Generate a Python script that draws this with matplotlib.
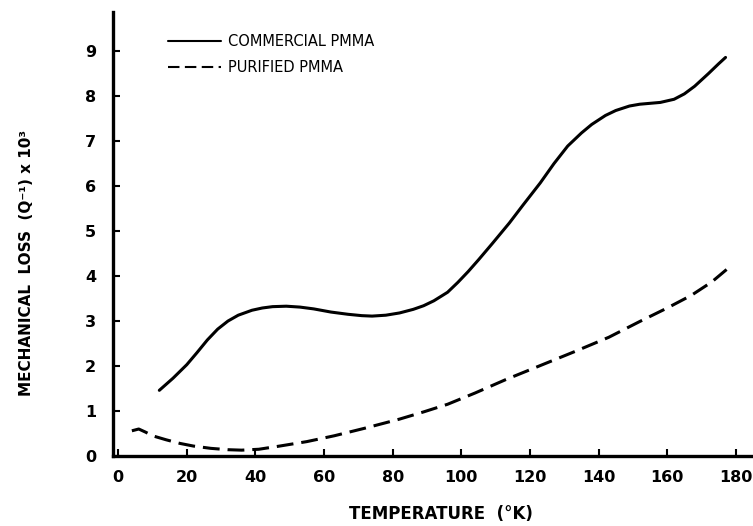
import matplotlib
matplotlib.use("Agg")
import matplotlib.pyplot as plt

# Commercial PMMA (solid)
comm_T = [12, 16, 20, 23, 26, 29, 32, 35, 39, 42, 45, 49, 53, 57, 62, 67, 71, 74, 78,
          82, 86, 89, 92, 96, 99, 102, 105, 109, 114, 118, 123, 127, 131, 135, 138, 142,
          145, 149, 152, 155, 158, 162, 165, 168, 172, 175, 177]
comm_Q = [1.46, 1.73, 2.03, 2.30, 2.58, 2.82, 3.00, 3.13, 3.24, 3.29, 3.32, 3.33, 3.31,
          3.27, 3.20, 3.15, 3.12, 3.11, 3.13, 3.18, 3.26, 3.34, 3.45, 3.64, 3.86, 4.10,
          4.36, 4.72, 5.18, 5.58, 6.07, 6.50, 6.89, 7.18, 7.37, 7.57, 7.68, 7.78, 7.82,
          7.84, 7.86, 7.93, 8.05, 8.22, 8.50, 8.72, 8.86]

# Purified PMMA (dashed)
pur_T = [4, 6, 8, 10, 14, 18, 22, 27, 32, 36, 41, 47, 55, 63, 72, 82, 89, 96, 104,
         113, 123, 133, 143, 152, 160, 167, 173, 178]
pur_Q = [0.56, 0.60, 0.53, 0.45, 0.36, 0.28, 0.22, 0.17, 0.14, 0.13, 0.15, 0.22, 0.32,
         0.45, 0.62, 0.82, 0.98, 1.15, 1.40, 1.70, 2.01, 2.32, 2.64, 2.99, 3.29, 3.57,
         3.87, 4.19]

xticks = [0, 20, 40, 60, 80, 100, 120, 140, 160, 180]
yticks = [0, 1, 2, 3, 4, 5, 6, 7, 8, 9]

fig = plt.figure(figsize=(7.53, 5.26), dpi=100)
ax = fig.add_axes([113 / 753, 1 - 456 / 526, 1 - 113 / 753, (456 - 12) / 526])

ax.plot(comm_T, comm_Q, color="black", lw=2.2, solid_capstyle="round",
        solid_joinstyle="round", label="COMMERCIAL PMMA")
ax.plot(pur_T, pur_Q, color="black", lw=2.2, dashes=(5.5, 2.6),
        label="PURIFIED PMMA")

ax.set_xlim(-1.5, 185)
ax.set_ylim(0, 9.87)
for s in ("top", "right"):
    ax.spines[s].set_visible(False)
for s in ("left", "bottom"):
    ax.spines[s].set_linewidth(2.4)

ax.set_xticks(xticks)
ax.set_yticks(yticks)
ax.tick_params(axis="both", direction="in", length=5, width=1.5, labelsize=11.5)
ax.tick_params(axis="x", pad=10)
ax.tick_params(axis="y", pad=12)
for lab in ax.get_xticklabels() + ax.get_yticklabels():
    lab.set_fontweight("bold")

fig.text(0.035, 0.50, "MECHANICAL  LOSS  (Q\u207b\u00b9) x 10\u00b3", rotation=90,
         ha="center", va="center", fontsize=11, fontweight="bold")
fig.text(0.585, 0.022, "TEMPERATURE  (\u00b0K)", ha="center", va="center",
         fontsize=12, fontweight="bold")

leg = ax.legend(loc="upper left", bbox_to_anchor=(168 / 753, 1 - 34 / 526),
                bbox_transform=fig.transFigure, frameon=False, fontsize=10.5,
                handlelength=3.6, handletextpad=0.5, labelspacing=0.75,
                borderpad=0, borderaxespad=0)
for line in leg.get_lines():
    line.set_linewidth(1.5)

fig.savefig("out.png", dpi=100)
